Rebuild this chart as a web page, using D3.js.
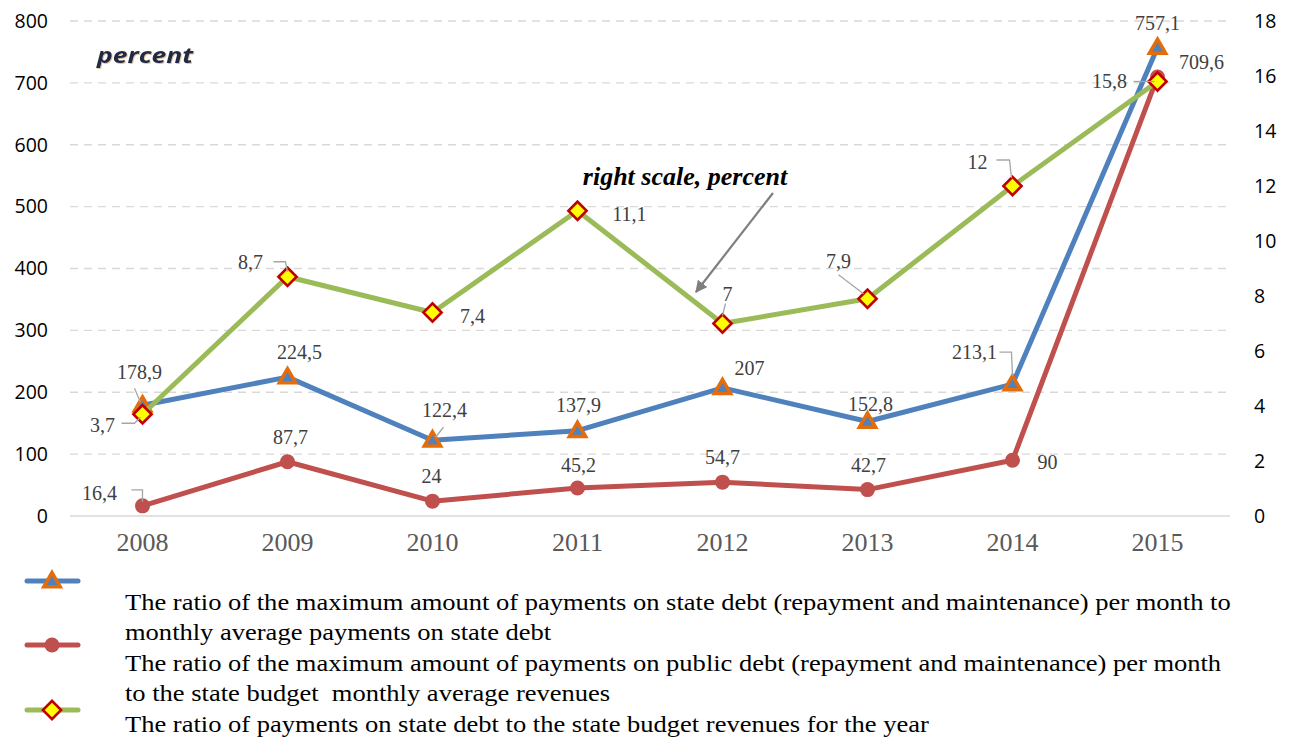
<!DOCTYPE html>
<html>
<head>
<meta charset="utf-8">
<script src="https://cdn.jsdelivr.net/npm/d3@7"></script>
<style>
  html, body { margin: 0; padding: 0; background: #fff; }
  svg { display: block; }
</style>
</head>
<body>
<svg id="chart" width="1295" height="737"></svg>
<script>
// ---- data ----
const years = ["2008", "2009", "2010", "2011", "2012", "2013", "2014", "2015"];
const maxToAvgDebtPayments = [178.9, 224.5, 122.4, 137.9, 207, 152.8, 213.1, 757.1];
const maxToAvgRevenues = [16.4, 87.7, 24, 45.2, 54.7, 42.7, 90, 709.6];
const debtToRevenuesYear = [3.7, 8.7, 7.4, 11.1, 7, 7.9, 12, 15.8];
const leftTicks = [0, 100, 200, 300, 400, 500, 600, 700, 800];
const rightTicks = [0, 2, 4, 6, 8, 10, 12, 14, 16, 18];
const legendLines = [
  "The ratio of the maximum amount of payments on state debt (repayment and maintenance) per month to",
  "monthly average payments on state debt",
  "The ratio of the maximum amount of payments on public debt (repayment and maintenance) per month",
  "to the state budget  monthly average revenues",
  "The ratio of payments on state debt to the state budget revenues for the year"
];

// ---- layout ----
const svg = d3.select("#chart");
const plot = { left: 70, right: 1230, top: 21, bottom: 516 };

const x = d3.scaleBand().domain(years).range([plot.left, plot.right]);
const xc = d => x(d) + x.bandwidth() / 2;
const yL = d3.scaleLinear().domain([0, 800]).range([plot.bottom, plot.top]);
const yR = d3.scaleLinear().domain([0, 18]).range([plot.bottom, plot.top]);

const colors = { blue: "#4f81bd", red: "#c0504d", green: "#9bbb59" };
const labelColor = "#404040";
const leaderColor = "#a6a6a6";
const serif = "'Liberation Serif', 'Times New Roman', serif";

// gridlines
svg.append("g")
  .selectAll("line")
  .data(leftTicks.filter(t => t > 0))
  .join("line")
  .attr("x1", plot.left).attr("x2", plot.right)
  .attr("y1", d => yL(d)).attr("y2", d => yL(d))
  .attr("stroke", "#d9d9d9").attr("stroke-width", 1.3)
  .attr("stroke-dasharray", "8,6");

// baseline
svg.append("line")
  .attr("x1", plot.left).attr("x2", plot.right)
  .attr("y1", plot.bottom).attr("y2", plot.bottom)
  .attr("stroke", "#d9d9d9").attr("stroke-width", 1.5);

// left axis
const axL = svg.append("g")
  .attr("transform", `translate(${plot.left - 22},0)`)
  .call(d3.axisLeft(yL).tickValues(leftTicks).tickSize(0).tickPadding(0));
axL.select(".domain").remove();
axL.selectAll("text")
  .attr("font-family", "'Open Sans', sans-serif").attr("font-size", 19.5)
  .attr("fill", "#000");

// right axis
const axR = svg.append("g")
  .attr("transform", `translate(${plot.right + 24},0)`)
  .call(d3.axisRight(yR).tickValues(rightTicks).tickSize(0).tickPadding(0));
axR.select(".domain").remove();
axR.selectAll("text")
  .attr("font-family", "'Open Sans', sans-serif").attr("font-size", 19.5)
  .attr("fill", "#000");

// bottom axis
const axB = svg.append("g")
  .attr("transform", `translate(0,${plot.bottom})`)
  .call(d3.axisBottom(x).tickSize(0).tickPadding(22));
axB.select(".domain").remove();
axB.selectAll("text")
  .attr("font-family", serif)
  .attr("font-size", 26).attr("fill", "#595959")
  .attr("dy", "0.5em");

// ---- series ----
const series = [
  { values: maxToAvgDebtPayments, y: yL, color: colors.blue, marker: "triangle" },
  { values: maxToAvgRevenues, y: yL, color: colors.red, marker: "circle" },
  { values: debtToRevenuesYear, y: yR, color: colors.green, marker: "diamond" }
];

function drawMarker(g, type, cx, cy) {
  if (type === "triangle") {
    g.append("path")
      .attr("d", d3.symbol().type(d3.symbolTriangle).size(115)())
      .attr("transform", `translate(${cx},${cy + 1})`)
      .attr("fill", colors.blue).attr("stroke", "#e46c0a").attr("stroke-width", 3.5)
      .attr("stroke-linejoin", "miter");
  } else if (type === "circle") {
    g.append("circle").attr("cx", cx).attr("cy", cy).attr("r", 7.5)
      .attr("fill", colors.red);
  } else {
    g.append("path")
      .attr("d", d3.symbol().type(d3.symbolSquare).size(165)())
      .attr("transform", `translate(${cx},${cy}) rotate(45)`)
      .attr("fill", "#ffff00").attr("stroke", "#c00000").attr("stroke-width", 2.6);
  }
}

// data-label placement (offsets from each point, with optional leader path)
const labelPlacement = [
  [ {dx:-3, dy:-33, leader:[[-8,-17],[-2,-3]]}, {dx:12, dy:-25}, {dx:12, dy:-30, leader:[[11,-13],[3,-3]]},
    {dx:1, dy:-26}, {dx:27, dy:-20}, {dx:3, dy:-17}, {dx:-38, dy:-32, leader:[[-13,-32],[-1,-32],[0,-8]]},
    {dx:0, dy:-25} ],
  [ {dx:-43, dy:-13, leader:[[-11,-16],[0,-16],[0,-4]]}, {dx:3, dy:-25}, {dx:-1, dy:-25},
    {dx:1, dy:-23}, {dx:0, dy:-25}, {dx:1, dy:-25}, {dx:35, dy:2}, {dx:44, dy:-15} ],
  [ {dx:-40, dy:11, leader:[[-21,9],[-8,9],[-2,3]]}, {dx:-37, dy:-15, leader:[[-14,-15],[-2,-15],[0,-5]]},
    {dx:40, dy:3}, {dx:52, dy:3}, {dx:5, dy:-30, leader:[[3,-20],[0,-8]]},
    {dx:-29, dy:-38, leader:[[-29,-24],[-4,-5]]}, {dx:-35, dy:-24, leader:[[-16,-26],[-3,-26],[-1,-8]]},
    {dx:-48, dy:-1, leader:[[-24,0],[-3,0]]} ]
];

const fmt = v => String(v).replace(".", ",");
const gLeaders = svg.append("g");
const gLabels = svg.append("g");

const line = d3.line();
series.forEach(s => {
  const pts = s.values.map((v, i) => [xc(years[i]), s.y(v)]);
  const gs = svg.append("g");
  gs.append("path")
    .attr("d", line(pts))
    .attr("fill", "none").attr("stroke", s.color).attr("stroke-width", 5)
    .attr("stroke-linejoin", "round").attr("stroke-linecap", "round");
  pts.forEach(p => drawMarker(gs, s.marker, p[0], p[1]));
  s.pts = pts;
});

series.forEach((s, si) => {
  s.pts.forEach((p, i) => {
    const pl = labelPlacement[si][i];
    if (pl.leader) {
      gLeaders.append("path")
        .attr("d", d3.line()(pl.leader.map(o => [p[0] + o[0], p[1] + o[1]])))
        .attr("fill", "none").attr("stroke", leaderColor).attr("stroke-width", 1.3);
    }
    gLabels.append("text")
      .attr("x", p[0] + pl.dx).attr("y", p[1] + pl.dy)
      .attr("text-anchor", "middle").attr("dominant-baseline", "central")
      .attr("font-family", serif)
      .attr("font-size", 20).attr("fill", labelColor)
      .text(fmt(s.values[i]));
  });
});
gLeaders.raise();
gLabels.raise();

// ---- annotations ----
svg.append("text")
  .attr("x", 97).attr("y", 63)
  .attr("textLength", 96).attr("lengthAdjust", "spacingAndGlyphs")
  .attr("font-family", "'Open Sans', sans-serif").attr("font-style", "italic")
  .attr("font-weight", "bold").attr("font-size", 21)
  .attr("fill", "#1f2a44")
  .style("filter", "drop-shadow(1px 1px 0.6px rgba(200,120,40,0.45))")
  .text("percent");

svg.append("text")
  .attr("x", 685).attr("y", 185)
  .attr("text-anchor", "middle")
  .attr("font-family", serif)
  .attr("font-style", "italic").attr("font-weight", "bold").attr("font-size", 26)
  .attr("fill", "#000")
  .text("right scale, percent");

svg.append("defs").append("marker")
  .attr("id", "arrowHead").attr("viewBox", "0 0 10 10")
  .attr("refX", 9).attr("refY", 5)
  .attr("markerWidth", 5.5).attr("markerHeight", 5.5)
  .attr("orient", "auto")
  .append("path").attr("d", "M0,0 L10,5 L0,10 Z").attr("fill", "#7f7f7f");

svg.append("line")
  .attr("x1", 773).attr("y1", 193).attr("x2", 696).attr("y2", 292)
  .attr("stroke", "#7f7f7f").attr("stroke-width", 2.2)
  .attr("marker-end", "url(#arrowHead)");

// ---- legend ----
const legendKeys = [
  { y: 581, color: colors.blue, marker: "triangle" },
  { y: 645, color: colors.red, marker: "circle" },
  { y: 710, color: colors.green, marker: "diamond" }
];
const gLeg = svg.append("g");
legendKeys.forEach(k => {
  gLeg.append("line")
    .attr("x1", 27).attr("x2", 78).attr("y1", k.y).attr("y2", k.y)
    .attr("stroke", k.color).attr("stroke-width", 5).attr("stroke-linecap", "round");
  drawMarker(gLeg, k.marker, 52, k.y);
});
const gLegText = gLeg.append("g")
  .attr("transform", "translate(125,0) scale(1.105,1)");
gLegText.selectAll("text")
  .data(legendLines)
  .join("text")
  .attr("x", 0).attr("y", (d, i) => 610 + i * 30.5)
  .attr("font-family", serif)
  .attr("font-size", 24).attr("fill", "#000")
  .style("white-space", "pre")
  .text(d => d);
</script>
</body>
</html>
